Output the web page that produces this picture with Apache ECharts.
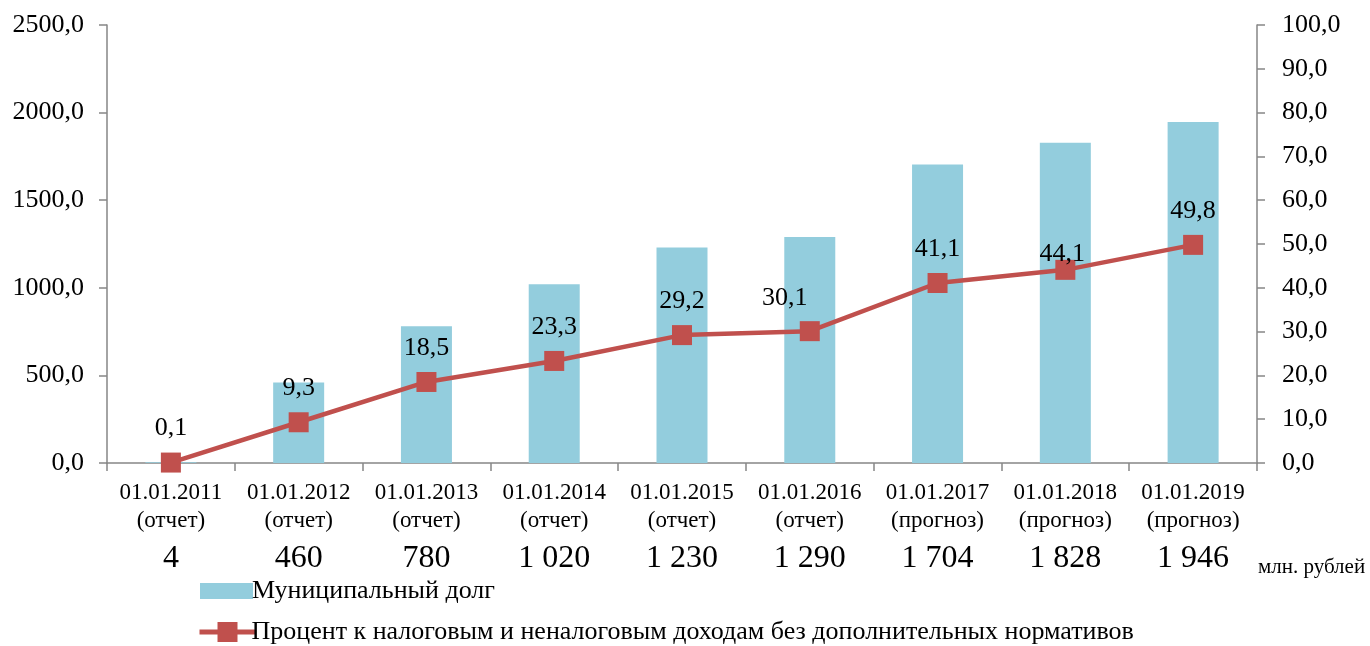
<!DOCTYPE html>
<html>
<head>
<meta charset="utf-8">
<script src="https://cdn.jsdelivr.net/npm/echarts@6/dist/echarts.min.js"></script>
<style>
  html, body { margin: 0; padding: 0; background: #fff; }
  #main { width: 1370px; height: 646px; }
</style>
</head>
<body>
<div id="main"></div>
<script>
var dates = ['01.01.2011', '01.01.2012', '01.01.2013', '01.01.2014', '01.01.2015',
             '01.01.2016', '01.01.2017', '01.01.2018', '01.01.2019'];
var statuses = ['(отчет)', '(отчет)', '(отчет)', '(отчет)', '(отчет)',
                '(отчет)', '(прогноз)', '(прогноз)', '(прогноз)'];
var debt = [4, 460, 780, 1020, 1230, 1290, 1704, 1828, 1946];
var percent = [0.1, 9.3, 18.5, 23.3, 29.2, 30.1, 41.1, 44.1, 49.8];

var font = '"Liberation Serif", "Times New Roman", serif';
var barName = 'Муниципальный долг';
var lineName = 'Процент к налоговым и неналоговым доходам без дополнительных нормативов';

function comma(v) { return v.toFixed(1).replace('.', ','); }
function spaced(n) { return String(n).replace(/\B(?=(\d{3})+(?!\d))/g, ' '); }

// метки линии: у 30,1 сдвиг влево, у 44,1 ниже
var lineData = percent.map(function (v, i) {
  var item = { value: v };
  if (i === 5) item.label = { offset: [-25, 1] };
  if (i === 7) item.label = { offset: [-3, 18] };
  return item;
});

var chart = echarts.init(document.getElementById('main'));
chart.setOption({
  backgroundColor: '#fff',
  animation: false,
  textStyle: { fontFamily: font },
  grid: { left: 107, right: 113, top: 25, bottom: 183 },
  legend: [{
    left: 195,
    top: 573,
    itemWidth: 53,
    itemHeight: 16,
    itemGap: 0,
    icon: 'rect',
    textStyle: { fontFamily: font, fontSize: 26, color: '#000', padding: [0, 0, 0, -6] },
    data: [barName]
  }, {
    left: 192,
    top: 614,
    itemWidth: 56,
    itemHeight: 25,
    itemGap: 0,
    lineStyle: { width: 5 },
    textStyle: { fontFamily: font, fontSize: 26, color: '#000', padding: [0, 0, 0, -9] },
    data: [lineName]
  }],
  graphic: [{
    type: 'text',
    left: 1258,
    top: 557,
    style: { text: 'млн. рублей', fontFamily: font, fontSize: 21, fill: '#000' }
  }],
  xAxis: {
    type: 'category',
    data: dates,
    axisLine: { lineStyle: { color: '#868686', width: 1.5 } },
    axisTick: { show: true, length: 8, lineStyle: { color: '#868686', width: 1.5 } },
    axisLabel: {
      margin: 16,
      interval: 0,
      formatter: function (value, index) {
        return '{d|' + value + '}\n{d|' + statuses[index] + '}\n{v|' + spaced(debt[index]) + '}';
      },
      rich: {
        d: { fontFamily: font, fontSize: 23, color: '#000', lineHeight: 28 },
        v: { fontFamily: font, fontSize: 32, color: '#000', lineHeight: 48 }
      }
    }
  },
  yAxis: [{
    type: 'value',
    min: 0, max: 2500, interval: 500,
    position: 'left',
    splitLine: { show: false },
    axisLine: { show: true, lineStyle: { color: '#868686', width: 1.5 } },
    axisTick: { show: true, length: 8, lineStyle: { color: '#868686', width: 1.5 } },
    axisLabel: { fontFamily: font, fontSize: 26, color: '#000', margin: 23, formatter: comma }
  }, {
    type: 'value',
    min: 0, max: 100, interval: 10,
    position: 'right',
    splitLine: { show: false },
    axisLine: { show: true, lineStyle: { color: '#868686', width: 1.5 } },
    axisTick: { show: true, length: 8, lineStyle: { color: '#868686', width: 1.5 } },
    axisLabel: { fontFamily: font, fontSize: 26, color: '#000', margin: 25, formatter: comma }
  }],
  series: [{
    name: barName,
    type: 'bar',
    yAxisIndex: 0,
    barWidth: 51,
    itemStyle: { color: '#93CDDD' },
    data: debt
  }, {
    name: lineName,
    type: 'line',
    yAxisIndex: 1,
    symbol: 'rect',
    symbolSize: 20,
    lineStyle: { color: '#C0504D', width: 4.5 },
    itemStyle: { color: '#C0504D' },
    label: {
      show: true,
      position: 'top',
      distance: 11,
      fontFamily: font,
      fontSize: 26,
      color: '#000',
      formatter: function (p) { return comma(p.value); }
    },
    data: lineData
  }]
});
</script>
</body>
</html>
